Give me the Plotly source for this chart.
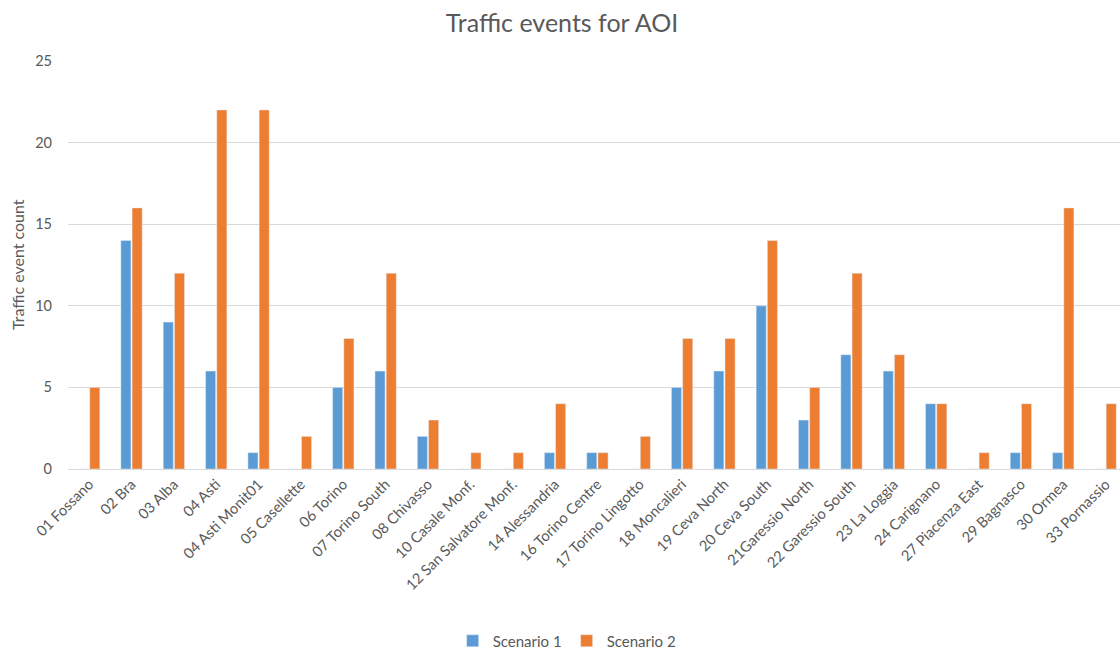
import plotly.graph_objects as go

categories = ["01 Fossano", "02 Bra", "03 Alba", "04 Asti", "04 Asti Monit01", "05 Casellette",
              "06 Torino", "07 Torino South", "08 Chivasso", "10 Casale Monf.",
              "12 San Salvatore Monf.", "14 Alessandria", "16 Torino Centre", "17 Torino Lingotto",
              "18 Moncalieri", "19 Ceva North", "20 Ceva South", "21Garessio North",
              "22 Garessio South", "23 La Loggia", "24 Carignano", "27 Piacenza East",
              "29 Bagnasco", "30 Ormea", "33 Pornassio"]
scenario1 = [0, 14, 9, 6, 1, 0, 5, 6, 2, 0, 0, 1, 1, 0, 5, 6, 10, 3, 7, 6, 4, 0, 1, 1, 0]
scenario2 = [5, 16, 12, 22, 22, 2, 8, 12, 3, 1, 1, 4, 1, 2, 8, 8, 14, 5, 12, 7, 4, 1, 4, 16, 4]
y_ticks = [0, 5, 10, 15, 20, 25]

FONT = "Lato"
GRAY = "#595959"

fig = go.Figure()
fig.add_trace(go.Bar(x=categories, y=scenario1, name="Scenario 1", marker_color="#5B9BD5"))
fig.add_trace(go.Bar(x=categories, y=scenario2, name="Scenario 2", marker_color="#ED7D31"))

fig.update_layout(
    width=1120, height=650,
    margin=dict(l=68, r=0, t=61, b=181, autoexpand=False),
    paper_bgcolor="white", plot_bgcolor="white",
    barmode="group", bargap=0.47, bargroupgap=0.1,
    font=dict(family=FONT, color=GRAY, size=14),
    title=dict(text="Traffic events for AOI", x=562 / 1120, xanchor="center",
               y=1 - 23 / 650, yanchor="middle", yref="container",
               font=dict(family=FONT, size=25, color=GRAY)),
    legend=dict(orientation="h", x=0.474, xanchor="center", y=-(641 - 469) / 408,
                yanchor="middle",
                font=dict(family=FONT, size=15, color=GRAY), itemwidth=30,
                tracegroupgap=0),
    showlegend=True,
)
fig.update_xaxes(type="category", range=[-0.5, 24.34], tickangle=-45, automargin=False,
                 showgrid=False, showline=True, linecolor="#D9D9D9", linewidth=1,
                 ticks="", tickfont=dict(family=FONT, size=14.7, color=GRAY))
fig.update_yaxes(range=[0, 25], tickvals=y_ticks, showgrid=True, gridcolor="#D9D9D9",
                 automargin=False,
                 gridwidth=1, zeroline=False, showline=False, ticks="",
                 ticklabelstandoff=15, tickfont=dict(family=FONT, size=14.5, color=GRAY))
fig.add_annotation(text="Traffic event count", xref="paper", yref="paper",
                   x=-(68 - 17) / 1052, y=0.5, xanchor="center", yanchor="middle",
                   textangle=-90, showarrow=False,
                   font=dict(family=FONT, size=16, color=GRAY))

fig.write_html("out.html", config={"displayModeBar": False},
               post_script="document.body.style.margin='0';document.body.style.overflow='hidden';")
